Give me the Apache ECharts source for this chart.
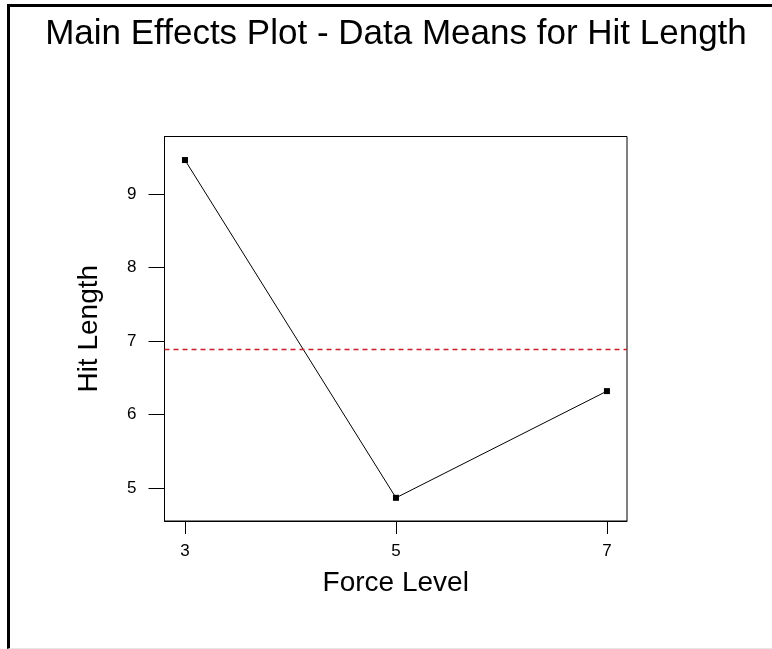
<!DOCTYPE html>
<html>
<head>
<meta charset="utf-8">
<script src="https://cdn.jsdelivr.net/npm/echarts@6/dist/echarts.min.js"></script>
<style>
html,body{margin:0;padding:0;background:#fff;}
#chart{position:absolute;left:0;top:0;width:772px;height:649px;}
#frame{position:absolute;left:7px;top:4px;width:765px;height:641px;border-top:3px solid #000;border-left:3px solid #000;border-bottom:1px solid #e6e6e6;pointer-events:none;}
</style>
</head>
<body>
<div id="chart"></div>
<div id="frame"></div>
<script>
// Data
const forceLevels = [3, 5, 7];
const hitLengthMeans = [9.46, 4.87, 6.32];
const grandMean = [6.89];
const xTickValues = [3, 5, 7];
const yTickValues = [5, 6, 7, 8, 9];

const titleText = 'Main Effects Plot - Data Means for Hit Length';
const xName = 'Force Level';
const yName = 'Hit Length';

const chart = echarts.init(document.getElementById('chart'), null, {renderer: 'canvas'});
const font = 'Liberation Sans, Arial, sans-serif';
const meanLineStyle = {color: '#cc1f2b', type: [5, 4], width: 1.3, opacity: 1};

chart.setOption({
  animation: false,
  backgroundColor: '#ffffff',
  title: {
    text: titleText,
    left: 391,
    top: 12,
    textAlign: 'center',
    textStyle: {fontFamily: font, fontSize: 35, fontWeight: 'normal', color: '#000'}
  },
  grid: {left: 164.5, top: 136.5, right: 145, bottom: 128, show: true, borderColor: '#000', borderWidth: 1, backgroundColor: 'transparent'},
  xAxis: {
    type: 'value',
    min: 2.806,
    max: 7.19,
    name: xName,
    nameLocation: 'middle',
    nameGap: 48,
    nameTextStyle: {fontFamily: font, fontSize: 28, color: '#000'},
    axisLine: {show: true, onZero: false, lineStyle: {color: '#000', width: 1}},
    axisTick: {show: true, customValues: xTickValues, length: 13, lineStyle: {color: '#000'}},
    axisLabel: {show: true, customValues: xTickValues, margin: 22, fontFamily: font, fontSize: 17, color: '#000'},
    splitLine: {show: false}
  },
  yAxis: {
    type: 'value',
    min: 4.555,
    max: 9.78,
    name: yName,
    nameLocation: 'middle',
    nameGap: 61,
    nameTextStyle: {fontFamily: font, fontSize: 28, color: '#000'},
    axisLine: {show: true, onZero: false, lineStyle: {color: '#000', width: 1}},
    axisTick: {show: true, customValues: yTickValues, length: 16, lineStyle: {color: '#000'}},
    axisLabel: {show: true, customValues: yTickValues, margin: 28, fontFamily: font, fontSize: 17, color: '#000'},
    splitLine: {show: false}
  },
  series: [{
    type: 'line',
    data: forceLevels.map((x, i) => [x, hitLengthMeans[i]]),
    symbol: 'rect',
    symbolSize: 6,
    itemStyle: {color: '#000'},
    lineStyle: {color: '#000', width: 1},
    markLine: {
      silent: true,
      symbol: 'none',
      label: {show: false},
      lineStyle: meanLineStyle,
      emphasis: {disabled: true},
      data: [{yAxis: grandMean[0], lineStyle: meanLineStyle}]
    }
  }]
});
</script>
</body>
</html>
